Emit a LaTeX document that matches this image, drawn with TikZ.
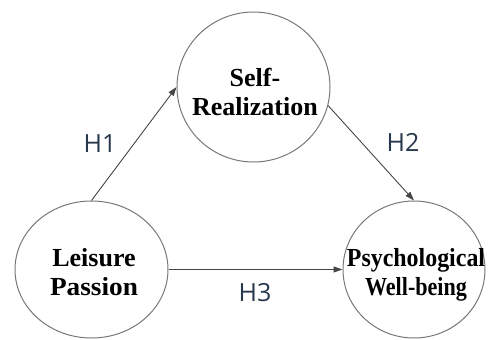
\documentclass[tikz,border=0pt]{standalone}
\usepackage{fontspec}
\usepackage{graphicx}
\setmainfont{Liberation Serif}
\newfontfamily\hfont{Open Sans}
\usetikzlibrary{shapes.geometric,arrows.meta}
\definecolor{ringgray}{RGB}{120,120,120}
\definecolor{arrowgray}{RGB}{70,70,70}
\definecolor{hblue}{RGB}{40,56,76}
\tikzset{
  construct/.style={ellipse, draw=ringgray, line width=1pt, fill=white, inner sep=0pt},
  ctext/.style={align=center, inner sep=0pt, font=\fontsize{26}{29}\selectfont\bfseries},
  path/.style={draw=arrowgray, line width=0.9pt, -{Triangle[length=9pt,width=6pt]}},
  hyp/.style={text=hblue, font=\hfont\fontsize{25}{28}\selectfont, inner sep=0pt}
}
\begin{document}
\begin{tikzpicture}[x=1pt,y=-1pt]
\useasboundingbox (0,0) rectangle (490,340);
\node[construct, minimum width=153pt, minimum height=150pt] (sr) at (253.5,87) {};
\node[construct, minimum width=153pt, minimum height=137pt] (lp) at (91.5,269.5) {};
\node[construct, minimum width=142pt, minimum height=137pt] (pw) at (414,269.5) {};
\node[ctext] (srt) at (255,91.7) {Self-\\Realization};
\node[ctext] (lpt) at (94,272.2) {Leisure\\\scalebox{1.05}[1]{Passion}};
\node[ctext] (pwt) at (416,274.5) {\scalebox{0.92}[1]{Psychological}\\\scalebox{0.85}[1]{Well-being}};
\draw[path] (lp.north) -- (sr.west);
\draw[path] (sr.-14) -- (pw.north);
\draw[path] (lp.east) -- (pw.west);
\node[hyp] (h1) at (100,144) {H1};
\node[hyp] (h2) at (403,142.5) {H2};
\node[hyp] (h3) at (255,293) {H3};
\end{tikzpicture}
\end{document}
